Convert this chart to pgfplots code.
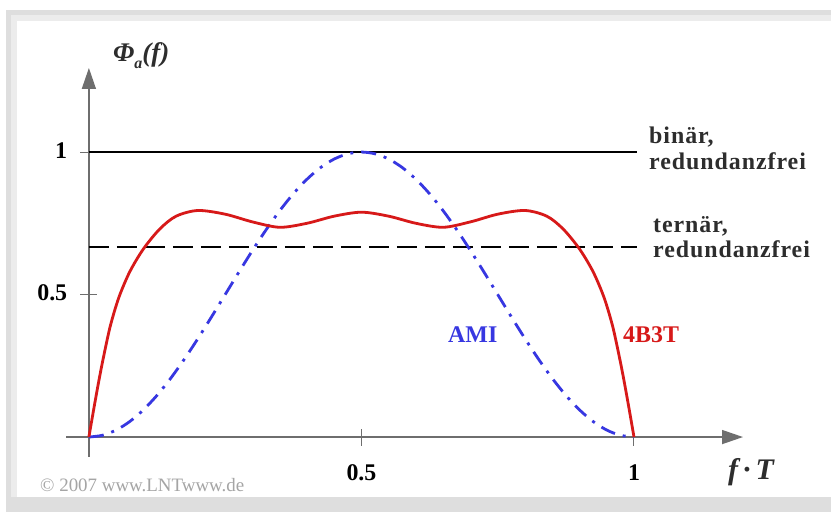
\documentclass[border=0pt]{standalone}
\usepackage{fontspec}
\setmainfont{Liberation Serif}
\newfontfamily\labfont[LetterSpace=4]{Liberation Serif}
\usepackage{pgfplots}
\pgfplotsset{compat=1.18}
\usetikzlibrary{arrows.meta}
\definecolor{axgray}{RGB}{110,110,110}
\definecolor{amiblue}{RGB}{55,55,225}
\definecolor{tred}{RGB}{215,25,25}
\definecolor{txtgray}{RGB}{45,45,45}
\definecolor{frameA}{RGB}{222,222,222}
\definecolor{frameB}{RGB}{236,236,236}
\definecolor{copygray}{RGB}{165,165,165}
\begin{document}
\begin{tikzpicture}[x=1bp,y=1bp]
\clip (0,0) rectangle (831,512);
\fill[white] (0,0) rectangle (831,512);
\fill[frameA] (6,-10) rectangle (850,502);
\fill[frameB] (11,15) rectangle (850,497);
\fill[white] (17,15) rectangle (850,491);
\begin{axis}[
  at={(66bp,55bp)}, anchor=south west,
  scale only axis, width=677bp, height=389bp,
  xmin=-0.042, xmax=1.2, ymin=-0.07, ymax=1.295,
  axis lines=middle,
  axis line style={draw=axgray, line width=1.5bp, -{Triangle[length=21bp,width=14bp]}},
  xtick={0.5,1}, ytick={0.5,1},
  xticklabels={0.5,1}, yticklabels={0.5,1},
  tick style={draw=axgray, line width=1bp},
  major tick length=17bp, tick align=center,
  ticklabel style={font=\fontsize{24}{28}\selectfont\bfseries, inner sep=0pt, text=black},
  xticklabel style={anchor=base, yshift=-35bp},
  yticklabel style={anchor=base east, xshift=-13bp, yshift=-6bp},
  clip=false,
]
\addplot[draw=black, line width=1.5bp] coordinates {(0,1) (1.005,1)};
\addplot[draw=black, line width=1.8bp, dash pattern=on 20bp off 8bp] coordinates {(0,0.6667) (1.005,0.6667)};
\addplot[amiblue, line width=2.8bp, dash pattern=on 15bp off 8bp on 3bp off 8bp, smooth] coordinates {
(0,0) (0.025,0.0062) (0.05,0.0245) (0.075,0.0545) (0.1,0.0955) (0.125,0.1464)
(0.15,0.2061) (0.175,0.2730) (0.2,0.3455) (0.225,0.4218) (0.25,0.5)
(0.275,0.5782) (0.3,0.6545) (0.325,0.7270) (0.35,0.7939) (0.375,0.8536)
(0.4,0.9045) (0.425,0.9455) (0.45,0.9755) (0.475,0.9938) (0.5,1)
(0.525,0.9938) (0.55,0.9755) (0.575,0.9455) (0.6,0.9045) (0.625,0.8536)
(0.65,0.7939) (0.675,0.7270) (0.7,0.6545) (0.725,0.5782) (0.75,0.5)
(0.775,0.4218) (0.8,0.3455) (0.825,0.2730) (0.85,0.2061) (0.875,0.1464)
(0.9,0.0955) (0.925,0.0545) (0.95,0.0245) (0.975,0.0062) (1,0)
};
\addplot[tred, line width=2.8bp, smooth] coordinates {
(0,0) (0.01,0.11) (0.02,0.215) (0.03,0.31) (0.04,0.395) (0.055,0.49)
(0.075,0.58) (0.10,0.66) (0.13,0.73) (0.16,0.775) (0.20,0.795) (0.25,0.782)
(0.30,0.755) (0.35,0.736) (0.40,0.75) (0.45,0.775) (0.50,0.789)
(0.55,0.775) (0.60,0.75) (0.65,0.736) (0.70,0.755) (0.75,0.782) (0.80,0.795)
(0.84,0.775) (0.87,0.73) (0.90,0.66) (0.925,0.58) (0.945,0.49) (0.96,0.395)
(0.97,0.31) (0.98,0.215) (0.99,0.11) (1.0,0)
};
\end{axis}
\node[anchor=base west, inner sep=0, text=txtgray, font=\fontsize{27}{30}\selectfont\bfseries\itshape] at (113,450) {Φ\raisebox{-7bp}{\fontsize{16}{16}\selectfont a}(f)};
\node[anchor=base west, inner sep=0, text=txtgray, font=\labfont\fontsize{24}{26}\selectfont\bfseries] at (649,368) {binär,};
\node[anchor=base west, inner sep=0, text=txtgray, font=\labfont\fontsize{24}{26}\selectfont\bfseries] at (649,342) {redundanzfrei};
\node[anchor=base west, inner sep=0, text=txtgray, font=\labfont\fontsize{24}{26}\selectfont\bfseries] at (653,279) {ternär,};
\node[anchor=base west, inner sep=0, text=txtgray, font=\labfont\fontsize{24}{26}\selectfont\bfseries] at (653,254) {redundanzfrei};
\node[anchor=base west, inner sep=0, text=amiblue, font=\fontsize{24}{28}\selectfont\bfseries] at (448,169) {AMI};
\node[anchor=base west, inner sep=0, text=tred, font=\fontsize{24}{28}\selectfont\bfseries] at (623,169) {4B3T};
\node[anchor=base west, inner sep=0, text=txtgray, font=\fontsize{30}{34}\selectfont\bfseries\itshape] at (728,32) {f\,·\,T};
\node[anchor=base west, inner sep=0, text=copygray, font=\fontsize{19}{21}\selectfont] at (40,20) {© 2007 www.LNTwww.de};
\end{tikzpicture}
\end{document}
